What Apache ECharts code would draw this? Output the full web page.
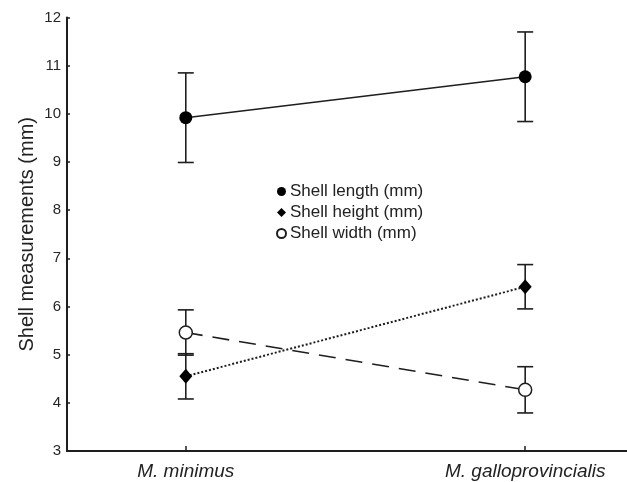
<!DOCTYPE html>
<html><head><meta charset="utf-8">
<script src="https://cdn.jsdelivr.net/npm/echarts@6/dist/echarts.min.js"></script>
<style>html,body{margin:0;padding:0;background:#fff}#c{width:627px;height:482px}</style>
</head><body><div id="c"></div>
<script>
var categories = ['M. minimus', 'M. galloprovincialis'];
var yTicks = [3, 4, 5, 6, 7, 8, 9, 10, 11, 12];
var lengthMean = [9.92, 10.77];
var lengthErr = [0.93, 0.93];
var heightMean = [4.55, 6.41];
var heightErr = [0.47, 0.46];
var widthMean = [5.46, 4.27];
var widthErr = [0.47, 0.48];
var seriesNames = ['Shell length (mm)', 'Shell height (mm)', 'Shell width (mm)'];

function pts(means) { return means.map(function (m, i) { return [i + 1, m]; }); }
function errs(means, e) { return means.map(function (m, i) { return [i + 1, m - e[i], m + e[i]]; }); }

var errData = errs(lengthMean, lengthErr).concat(errs(heightMean, heightErr), errs(widthMean, widthErr));

var chart = echarts.init(document.getElementById('c'), null, {renderer: 'canvas'});
var ink = '#1e1e1e';
chart.setOption({
  animation: false,
  backgroundColor: '#fff',
  textStyle: {fontFamily: 'Liberation Sans, Arial, sans-serif'},
  grid: {left: 67, right: 0, top: 17.5, bottom: 31, containLabel: false},
  xAxis: {
    type: 'value', min: 0.65, max: 2.3,
    axisLine: {show: true, onZero: false, lineStyle: {color: ink, width: 2}},
    axisTick: {show: true, inside: true, length: 5, customValues: [1, 2], lineStyle: {color: ink, width: 1.5}},
    axisLabel: {customValues: [1, 2], formatter: function (v) { return categories[Math.round(v) - 1]; },
      fontStyle: 'italic', fontSize: 19, color: '#222', margin: 11},
    splitLine: {show: false}
  },
  yAxis: {
    type: 'value', min: 3, max: 12, interval: 1,
    name: 'Shell measurements (mm)', nameLocation: 'middle', nameRotate: 90, nameGap: 30,
    nameMoveOverlap: false,
    nameTextStyle: {fontSize: 20, color: '#222'},
    axisLine: {show: true, onZero: false, lineStyle: {color: ink, width: 2}},
    axisTick: {show: true, inside: true, length: 3, lineStyle: {color: ink, width: 1.5}},
    axisLabel: {fontSize: 15, color: '#262626', margin: 6},
    splitLine: {show: false}
  },
  legend: {
    orient: 'vertical', left: 271, top: 178, itemGap: 4, itemWidth: 9, itemHeight: 9,
    textStyle: {fontSize: 17, color: '#222', padding: [0, 0, 0, -1]},
    data: [
      {name: seriesNames[0], icon: 'circle'},
      {name: seriesNames[1], icon: 'diamond'},
      {name: seriesNames[2], icon: 'circle'}
    ]
  },
  series: [
    {
      type: 'custom', name: 'err', z: 1, silent: true,
      data: errData,
      renderItem: function (params, api) {
        var x = api.value(0);
        var lo = api.coord([x, api.value(1)]);
        var hi = api.coord([x, api.value(2)]);
        var w = 8;
        var st = {stroke: ink, lineWidth: 1.6};
        return {type: 'group', children: [
          {type: 'line', shape: {x1: lo[0], y1: lo[1], x2: hi[0], y2: hi[1]}, style: st},
          {type: 'line', shape: {x1: lo[0] - w, y1: lo[1], x2: lo[0] + w, y2: lo[1]}, style: st},
          {type: 'line', shape: {x1: hi[0] - w, y1: hi[1], x2: hi[0] + w, y2: hi[1]}, style: st}
        ]};
      }
    },
    {
      type: 'line', name: seriesNames[0], z: 3, data: pts(lengthMean),
      symbol: 'circle', symbolSize: 13,
      lineStyle: {color: ink, width: 1.5, type: 'solid'},
      itemStyle: {color: '#000', borderColor: '#000', borderWidth: 0}
    },
    {
      type: 'line', name: seriesNames[1], z: 3, data: pts(heightMean),
      symbol: 'diamond', symbolSize: [13, 15],
      lineStyle: {color: ink, width: 2, type: [2, 2]},
      itemStyle: {color: '#000', borderColor: '#000', borderWidth: 0}
    },
    {
      type: 'line', name: seriesNames[2], z: 3, data: pts(widthMean),
      symbol: 'circle', symbolSize: 13,
      lineStyle: {color: ink, width: 1.6, type: [17, 10]},
      itemStyle: {color: '#fff', borderColor: ink, borderWidth: 1.5}
    }
  ]
});
</script></body></html>
